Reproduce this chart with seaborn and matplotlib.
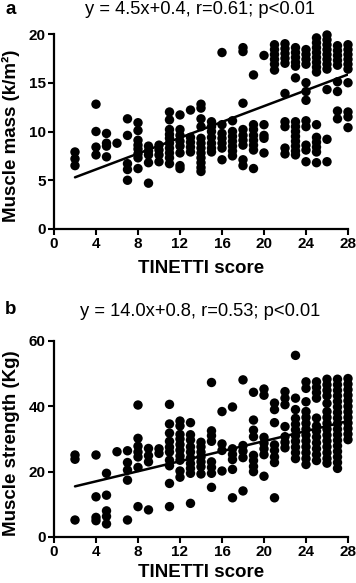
import matplotlib
matplotlib.use("Agg")
import matplotlib.pyplot as plt
import seaborn as sns
import pandas as pd

sns.set_style("ticks")
plt.rcParams['font.family'] = ['Liberation Sans', 'DejaVu Sans']
plt.rcParams.update({'text.color': 'black', 'axes.labelcolor': 'black',
                     'xtick.color': 'black', 'ytick.color': 'black',
                     'axes.edgecolor': 'black'})

# axis ticks
tinetti_ticks = [0, 4, 8, 12, 16, 20, 24, 28]
mass_ticks = [0, 5, 10, 15, 20]
strength_ticks = [0, 20, 40, 60]

# panel a: muscle mass per TINETTI score
muscle_mass = {
    2: [7.9, 7.2, 6.5],
    4: [12.8, 10.0, 8.4, 7.6],
    5: [9.8, 8.8, 8.5, 7.4],
    6: [8.8],
    7: [11.3, 9.6, 6.7, 6.1, 5.0],
    8: [10.9, 10.1, 9.1, 8.6, 8.2, 7.7, 7.3, 6.2],
    9: [8.5, 8.0, 7.6, 6.8, 4.7],
    10: [8.6, 8.1, 7.6, 6.9],
    11: [12.0, 11.2, 10.2, 9.7, 9.3, 8.8, 8.3, 7.8, 7.3, 6.7],
    12: [11.7, 10.2, 9.6, 9.0, 8.5, 7.8, 6.5, 6.2],
    13: [12.2, 9.4, 8.9, 8.4, 7.9],
    14: [12.8, 12.4, 11.3, 10.5, 9.3, 8.8, 8.3, 7.8, 7.3, 6.8, 6.3, 5.9],
    15: [11.0, 10.5, 10.0, 9.4, 8.8, 8.3, 7.9],
    16: [18.1, 10.7, 9.8, 9.3, 8.8, 8.3, 7.1],
    17: [11.1, 10.0, 9.5, 9.0, 8.5, 8.0, 7.5],
    18: [18.6, 18.2, 12.9, 10.2, 9.6, 9.1, 8.6, 7.1, 6.5],
    19: [15.8, 10.7, 10.2, 9.6, 9.1, 8.6, 8.1, 6.2],
    20: [17.8, 10.7, 9.6, 9.3, 7.8],
    21: [18.9, 18.4, 17.9, 17.4, 16.9, 16.3],
    22: [19.0, 18.5, 18.0, 17.5, 17.0, 13.9, 11.0, 10.5, 8.3, 7.7],
    23: [18.6, 18.1, 17.6, 17.1, 16.7, 15.5, 11.0, 10.5, 10.0, 9.5, 9.0, 8.5, 8.0, 7.6],
    24: [18.4, 17.9, 17.4, 16.9, 15.0, 14.1, 13.2, 11.1, 10.5, 8.6, 8.1, 6.9],
    25: [19.6, 19.1, 18.6, 18.1, 17.6, 17.1, 16.6, 16.1, 10.7, 9.4, 8.9, 8.4, 7.9, 6.8],
    26: [19.9, 19.4, 18.9, 18.4, 17.9, 17.4, 16.9, 16.4, 14.3, 9.2, 6.9],
    27: [18.8, 18.3, 17.8, 17.3, 16.8, 15.1, 14.1, 12.1, 11.3],
    28: [18.9, 18.4, 17.9, 17.4, 16.9, 16.4, 15.0, 12.0, 11.5, 10.4],
}

# panel b: muscle strength per TINETTI score
muscle_strength = {
    2: [25.1, 23.8, 5.2],
    4: [25.1, 12.3, 6.0, 5.0],
    5: [19.5, 12.8, 8.0, 6.3, 4.0],
    6: [26.1],
    7: [26.4, 22.8, 20.5, 17.4, 5.2],
    8: [40.4, 30.2, 27.8, 26.0, 24.5, 21.3, 9.3],
    9: [27.1, 24.9, 23.0, 8.3],
    10: [27.0, 25.6],
    11: [40.6, 34.6, 31.8, 29.3, 27.5, 26.0, 23.5, 21.8, 16.4, 9.3],
    12: [35.5, 34.0, 31.4, 30.0, 28.3, 26.6, 24.8, 23.5, 20.2, 18.3],
    13: [35.0, 31.3, 29.7, 27.6, 26.0, 24.2, 22.5, 21.0, 19.5, 10.3],
    14: [29.0, 27.6, 26.0, 24.5, 23.0, 21.5, 19.3],
    15: [47.3, 32.5, 31.0, 29.3, 23.0, 21.3, 19.5, 15.2],
    16: [38.4, 28.5, 26.5, 20.2],
    17: [39.8, 27.0, 25.3, 23.7, 20.7, 12.0],
    18: [48.1, 28.0, 26.3, 24.3, 14.1],
    19: [44.3, 35.8, 32.7, 30.7, 25.0, 23.4, 21.6, 20.0],
    20: [45.3, 43.4, 30.5, 28.7, 27.0, 25.2, 18.6],
    21: [41.0, 39.0, 35.0, 28.2, 26.5, 24.5, 22.8, 12.0],
    22: [44.5, 42.5, 40.5, 33.8, 30.7, 29.0, 27.3],
    23: [55.6, 42.5, 39.0, 36.3, 34.5, 32.8, 31.0, 29.3, 27.5, 25.8, 24.0],
    24: [47.5, 45.5, 41.4, 38.4, 36.6, 34.8, 33.0, 31.2, 29.4, 27.6, 25.8, 24.0, 22.2],
    25: [47.5, 45.8, 44.2, 42.5, 36.4, 34.0, 32.4, 30.6, 28.8, 27.0, 25.2, 23.4],
    26: [48.3, 46.6, 44.9, 43.2, 40.9, 38.4, 36.6, 34.8, 33.0, 31.2, 29.4, 27.6, 25.8, 24.0, 22.6],
    27: [48.3, 46.6, 44.9, 43.2, 41.5, 39.8, 38.1, 36.4, 34.7, 33.0, 31.3, 29.6, 27.9,
         26.2, 24.5, 22.8, 21.0],
    28: [48.5, 46.8, 45.1, 43.4, 41.7, 40.0, 38.3, 36.6, 34.9, 33.2, 31.5, 29.8],
}

# regression lines as drawn in the figure
fit_x = [2, 28]
fit_mass = [5.3, 15.85]
fit_strength = [15.5, 35.5]

title_a = "y = 4.5x+0.4, r=0.61; p<0.01"
title_b = "y = 14.0x+0.8, r=0.53; p<0.01"


def to_frame(d, col):
    rows = [(k, v) for k, vals in d.items() for v in vals]
    return pd.DataFrame(rows, columns=['tinetti', col])


W, H = 356, 583
fig = plt.figure(figsize=(W / 100, H / 100), dpi=100)
ax_a = fig.add_axes([54 / W, (H - 229) / H, 294 / W, 195 / H])
ax_b = fig.add_axes([54 / W, (H - 537) / H, 294 / W, 196 / H])


def draw_panel(ax, df, col, fit_y, yticks, ylabel, xlab_y):
    sns.scatterplot(data=df, x='tinetti', y=col, ax=ax, color='black', s=46,
                    edgecolor='none', legend=False, clip_on=False, zorder=3)
    sns.lineplot(x=fit_x, y=fit_y, ax=ax, color='black', linewidth=1.8, zorder=4)
    ax.set_xlim(0, 28)
    ax.set_ylim(yticks[0], yticks[-1])
    ax.set_xticks(tinetti_ticks)
    ax.set_yticks(yticks)
    sns.despine(ax=ax)
    for side in ['left', 'bottom']:
        ax.spines[side].set_linewidth(1.6)
    ax.tick_params(direction='out', length=4, width=1.5, pad=2, labelsize=11)
    for lab in ax.get_xticklabels() + ax.get_yticklabels():
        lab.set_fontweight('bold')
    ax.set_xlabel('TINETTI score', fontsize=13.5, fontweight='bold')
    ax.set_ylabel(ylabel, fontsize=13.5, fontweight='bold')
    ax.xaxis.set_label_coords(0.5, xlab_y)
    ax.yaxis.set_label_coords(-0.115, 0.48)


draw_panel(ax_a, to_frame(muscle_mass, 'mass'), 'mass', fit_mass, mass_ticks,
           'Muscle mass (k/m²)', -0.16)
draw_panel(ax_b, to_frame(muscle_strength, 'strength'), 'strength', fit_strength,
           strength_ticks, 'Muscle strength (Kg)', -0.14)

fig.text(11 / W, 1 - 9 / H, 'a', fontsize=13.5, fontweight='bold', ha='center', va='center')
fig.text(200 / W, 1 - 10 / H, title_a, fontsize=13.2, ha='center', va='center')
fig.text(11 / W, 1 - 309 / H, 'b', fontsize=13.5, fontweight='bold', ha='center', va='center')
fig.text(200 / W, 1 - 311 / H, title_b, fontsize=13.2, ha='center', va='center')

fig.savefig('out.png', dpi=100)
